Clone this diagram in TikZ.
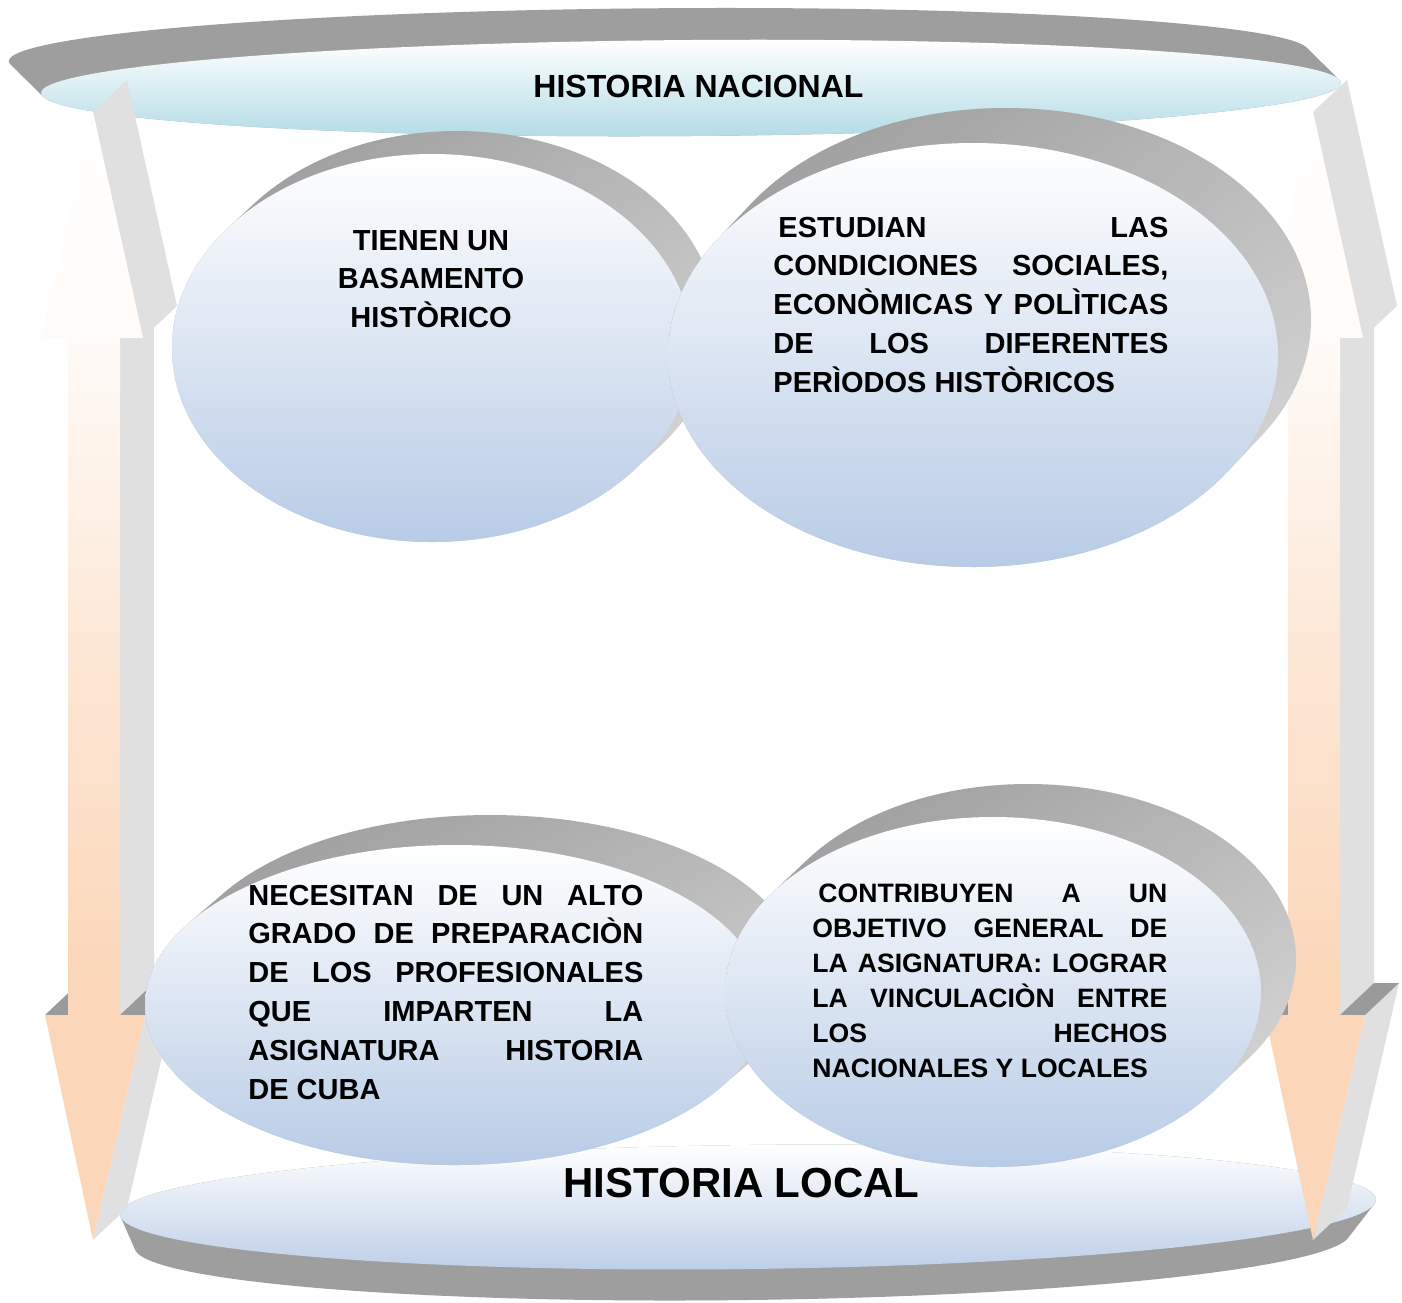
\documentclass[tikz,border=0pt]{standalone}
\usepackage{fontspec}
\setmainfont{Liberation Sans}
\usetikzlibrary{shadings}
\definecolor{faceblue}{RGB}{184,203,230}
\definecolor{bandcyan}{RGB}{178,219,230}
\definecolor{bandblue}{RGB}{188,205,231}
\definecolor{bandgray}{RGB}{158,158,158}
\definecolor{crA}{RGB}{150,150,150}
\definecolor{crB}{RGB}{185,185,185}
\definecolor{crC}{RGB}{222,222,222}
\definecolor{apeach}{RGB}{251,214,184}
\definecolor{aside}{RGB}{224,224,224}
\definecolor{adark}{RGB}{154,154,154}
\pgfdeclareverticalshading{arrowshade}{100bp}{color(0bp)=(apeach); color(25bp)=(apeach); color(36bp)=(apeach); color(52bp)=(apeach!55!white); color(65bp)=(apeach!10!white); color(75bp)=(white); color(100bp)=(white)}
\tikzset{
  txt/.style={inner sep=0pt, font=\bfseries\fontsize{14.5}{19.4}\selectfont},
  facefill/.style={top color=white, bottom color=faceblue},
  crescent/.style={upper left=crA, upper right=crB, lower left=crB, lower right=crC},
  dblarrow/.pic={
    \fill[aside] (1313,112) -- (1347,80) -- (1397,306) -- (1363,338) -- cycle;
    \fill[aside] (1340,338) -- (1374,306) -- (1374,983) -- (1340,1015) -- cycle;
    \fill[aside] (1365,1015) -- (1399,983) -- (1347,1208) -- (1313,1240) -- cycle;
    \fill[adark] (1340,1015) -- (1374,983) -- (1399,983) -- (1365,1015) -- cycle;
    \fill[adark] (1265,1015) -- (1299,983) -- (1322,983) -- (1288,1015) -- cycle;
    \shade[shading=arrowshade] (1313,112) -- (1363,338) -- (1340,338) -- (1340,1015)
      -- (1365,1015) -- (1313,1240) -- (1265,1015) -- (1288,1015) -- (1288,338)
      -- (1262,338) -- cycle;
  }
}
\begin{document}
\begin{tikzpicture}[x=0.5pt,y=-0.5pt]
\useasboundingbox (0,0) rectangle (1402,1302);
\fill[white] (0,0) rectangle (1402,1302);
% top band
\begin{scope}[rotate around={0.44:(691,88)}]
  \fill[bandgray] \foreach \k in {0,...,24}{(691-\k*32/24,88-\k*32/24) ellipse[x radius=650,y radius=48]};
  \shade[top color=white, bottom color=bandcyan] (691,88) ellipse[x radius=650,y radius=48];
\end{scope}
% bottom band
\begin{scope}[rotate around={0.68:(748,1207)}]
  \fill[bandgray] \foreach \k in {0,...,24}{(748-\k*6/24,1207+\k*33/24) ellipse[x radius={628-\k*20/24},y radius={62-\k*2/24}]};
  \shade[top color=white, bottom color=bandblue] (748,1207) ellipse[x radius=628,y radius=62];
\end{scope}
% side arrows
\pic at (0,0) {dblarrow};
\pic at (-1220,0) {dblarrow};
% top-left
\shade[crescent] \foreach \k in {0,...,24}{(432+\k*25/24,348-\k*23/24) ellipse[x radius=260,y radius=194]};
\shade[facefill] (432,348) ellipse[x radius=260,y radius=194];
% top-right
\shade[crescent] \foreach \k in {0,...,24}{(973+\k*33/24,355-\k*35/24) ellipse[x radius=305,y radius=212]};
\shade[facefill] (973,355) ellipse[x radius=305,y radius=212];
% bottom-left
\shade[crescent] \foreach \k in {0,...,24}{(455+\k*35/24,1005-\k*30/24) ellipse[x radius=310,y radius=160]};
\shade[facefill] (455,1005) ellipse[x radius=310,y radius=160];
% bottom-right
\shade[crescent] \foreach \k in {0,...,24}{(993+\k*35/24,992-\k*33/24) ellipse[x radius=268,y radius=175]};
\shade[facefill] (993,992) ellipse[x radius=268,y radius=175];
% texts
\node[txt, anchor=base west, font=\bfseries\fontsize{16}{19}\selectfont] (nac) at (533,97) {HISTORIA NACIONAL};
\node[txt, anchor=base west, font=\bfseries\fontsize{21}{25}\selectfont] (loc) at (563,1197) {HISTORIA LOCAL};
\node[txt, anchor=base] (t1) at (431,250) {\parbox[t]{200pt}{\centering TIENEN UN\\BASAMENTO\\HISTÒRICO}};
\node[txt, anchor=base west] (t2) at (773,237) {\parbox[t]{197.5pt}{\hspace*{2.5pt}ESTUDIAN\hfill LAS\\CONDICIONES\hfill SOCIALES,\\ECONÒMICAS\hfill Y\hfill POLÌTICAS\\DE\hfill LOS\hfill DIFERENTES\\PERÌODOS HISTÒRICOS}};
\node[txt, anchor=base west] (t3) at (248,905) {\parbox[t]{197.5pt}{NECESITAN\hfill DE\hfill UN\hfill ALTO\\GRADO\hfill DE\hfill PREPARACIÒN\\DE\hfill LOS\hfill PROFESIONALES\\QUE\hfill IMPARTEN\hfill LA\\ASIGNATURA\hfill HISTORIA\\DE CUBA}};
\node[txt, anchor=base west, font=\bfseries\fontsize{13.3}{17.5}\selectfont] (t4) at (812,902) {\parbox[t]{177.5pt}{\hspace*{3pt}CONTRIBUYEN\hfill A\hfill UN\\OBJETIVO\hfill GENERAL\hfill DE\\LA\hfill ASIGNATURA:\hfill LOGRAR\\LA\hfill VINCULACIÒN\hfill ENTRE\\LOS\hfill HECHOS\\NACIONALES Y LOCALES}};
\end{tikzpicture}
\end{document}
